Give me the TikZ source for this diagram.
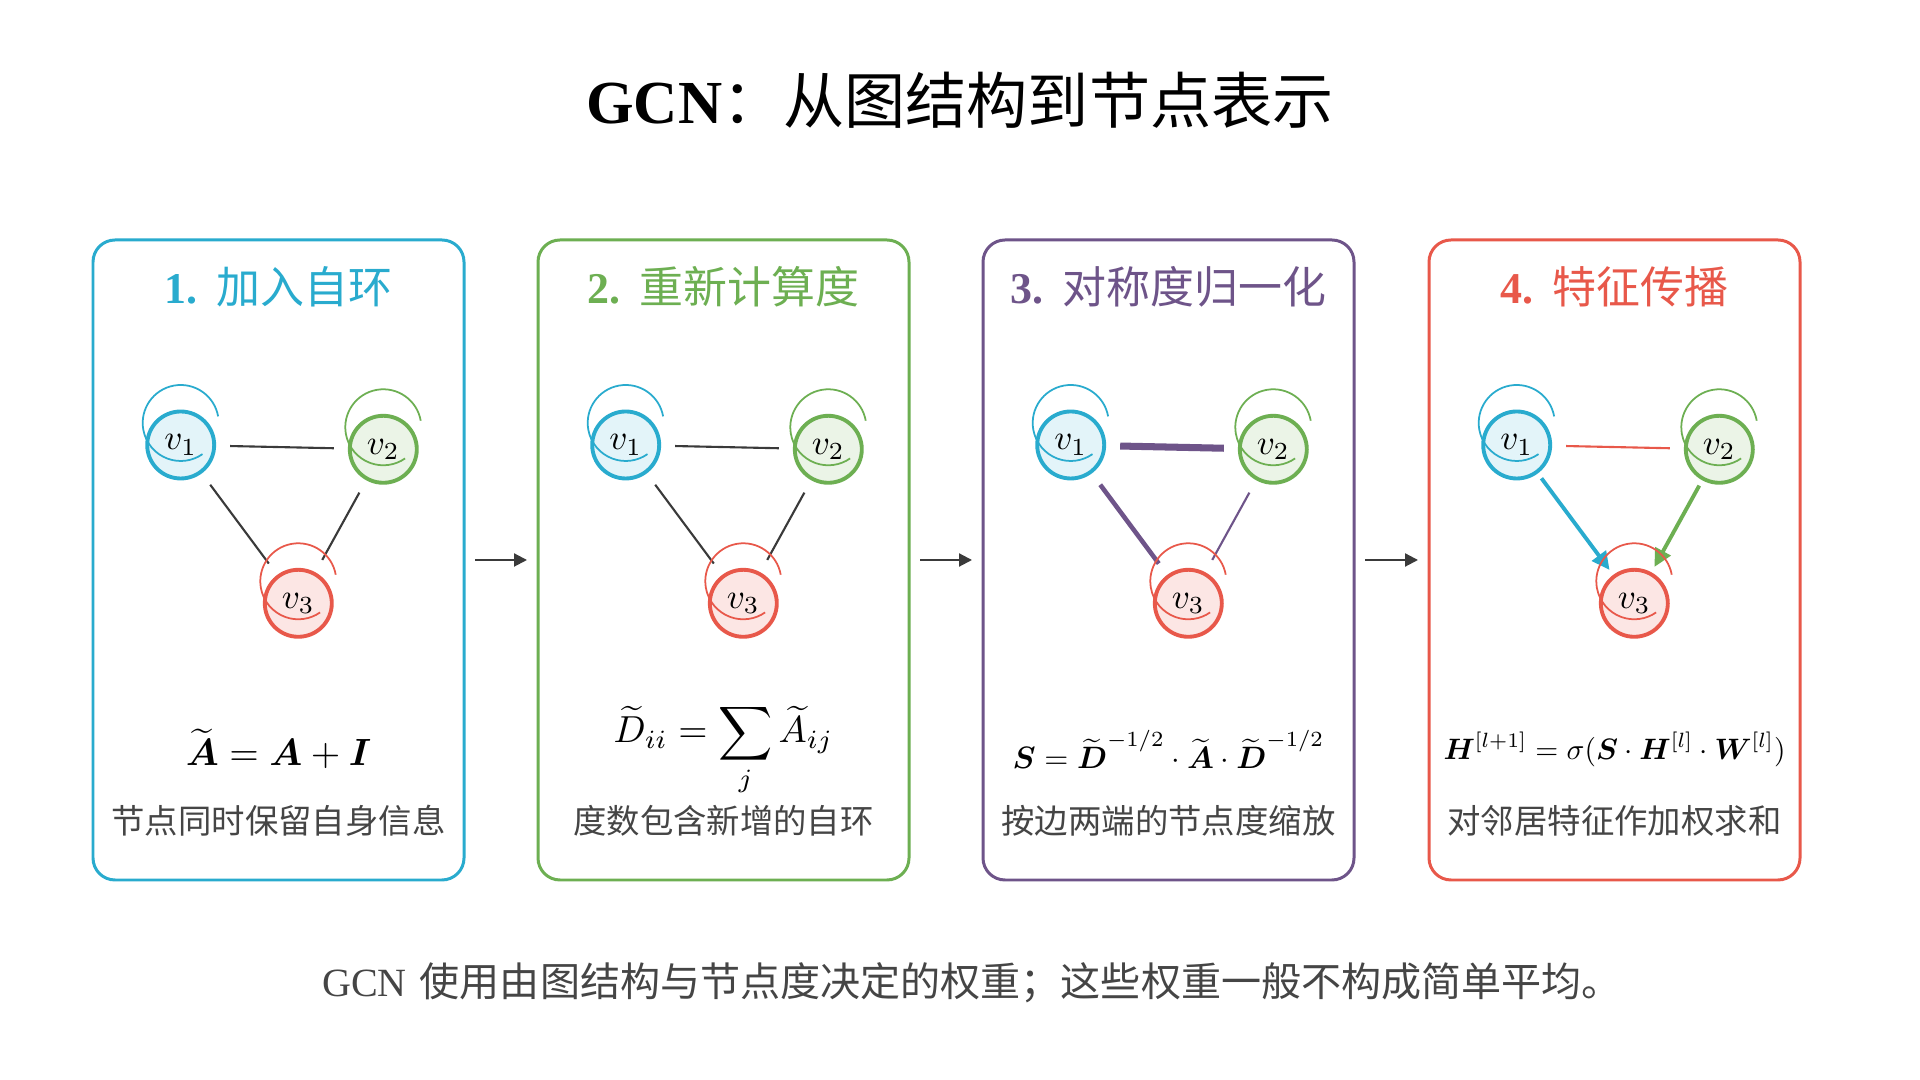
\documentclass[tikz,border=0pt]{standalone}
\usepackage{amsmath}
\usepackage{fontspec}
\newfontfamily\cjk{Noto Sans CJK SC}
\newfontfamily\tnr{Liberation Serif}
\usetikzlibrary{arrows.meta}

\definecolor{gcncyan}{HTML}{29ABCE}
\definecolor{gcngreen}{HTML}{6DAF52}
\definecolor{gcnpurple}{HTML}{6E5489}
\definecolor{gcnred}{HTML}{E8584A}
\definecolor{edgegray}{HTML}{3A3A3A}
\definecolor{textgray}{HTML}{454545}

\tikzset{
	panel/.style={draw, rounded corners=0.22cm, line width=0.85pt, minimum width=3.71cm, minimum height=6.4cm, inner sep=0pt, outer sep=0pt},
	paneltitle/.style={anchor=base, font=\fontsize{12.5}{15}\selectfont},
	vert/.style={circle, line width=1.1pt, minimum size=0.67cm, inner sep=0pt, outer sep=0pt, font=\fontsize{10}{12}\selectfont},
	vcyan/.style={vert, draw=gcncyan, fill=gcncyan!13},
	vgreen/.style={vert, draw=gcngreen, fill=gcngreen!14},
	vred/.style={vert, draw=gcnred, fill=gcnred!15},
	selfloop/.style={line width=0.5pt},
	edge/.style={line width=0.6pt, draw=edgegray, shorten <=0.16cm, shorten >=0.16cm},
	push/.style={line width=1.1pt, -{Triangle[length=0.18cm,width=0.17cm]}, shorten <=0.08cm, shorten >=0.08cm},
	flow/.style={line width=0.6pt, draw=edgegray, -{Triangle[length=0.13cm,width=0.13cm]}, shorten <=0.11cm, shorten >=0.11cm},
	formula/.style={anchor=base, font=\fontsize{10}{12}\selectfont},
	desc/.style={anchor=base, text=textgray, font=\fontsize{9.5}{11}\selectfont\cjk}
}

\begin{document}
\begin{tikzpicture}[x=1cm, y=1cm]
	\fill[white] (0,0) rectangle (19.2,10.8);
	\useasboundingbox (0,0) rectangle (19.2,10.8);
	\node[anchor=base, font=\fontsize{17.4}{21}\selectfont] (title) at (9.6,9.56) {{\tnr\bfseries GCN}{\cjk ：从图结构到节点表示}};

	\node[panel, draw=gcncyan] (pa) at (2.785,5.2) {};
	\node[panel, draw=gcngreen] (pb) at (7.235,5.2) {};
	\node[panel, draw=gcnpurple] (pc) at (11.685,5.2) {};
	\node[panel, draw=gcnred] (pd) at (16.145,5.2) {};
	\draw[flow] (pa) -- (pb);
	\draw[flow] (pb) -- (pc);
	\draw[flow] (pc) -- (pd);

	\node[paneltitle, text=gcncyan] (ta) at (2.785,7.76) {{\tnr\bfseries 1.} {\cjk 加入自环}};
	\node[paneltitle, text=gcngreen] (tb) at (7.235,7.76) {{\tnr\bfseries 2.} {\cjk 重新计算度}};
	\node[paneltitle, text=gcnpurple] (tc) at (11.685,7.76) {{\tnr\bfseries 3.} {\cjk 对称度归一化}};
	\node[paneltitle, text=gcnred] (td) at (16.145,7.76) {{\tnr\bfseries 4.} {\cjk 特征传播}};

	\node[vcyan] (a1) at (1.807,6.35) {$v_1$};
	\node[vgreen] (a2) at (3.833,6.307) {$v_2$};
	\node[vred] (a3) at (2.983,4.767) {$v_3$};
	\draw[edge] (a1) -- (a2);
	\draw[edge] (a1) -- (a3);
	\draw[edge] (a2) -- (a3);
	\draw[selfloop, gcncyan] ([yshift=0.22cm]a1.center) ++(10:0.38) arc(10:305:0.38);
	\draw[selfloop, gcngreen] ([yshift=0.22cm]a2.center) ++(10:0.38) arc(10:305:0.38);
	\draw[selfloop, gcnred] ([yshift=0.22cm]a3.center) ++(10:0.38) arc(10:305:0.38);

	\node[vcyan] (b1) at (6.257,6.35) {$v_1$};
	\node[vgreen] (b2) at (8.283,6.307) {$v_2$};
	\node[vred] (b3) at (7.433,4.767) {$v_3$};
	\draw[edge] (b1) -- (b2);
	\draw[edge] (b1) -- (b3);
	\draw[edge] (b2) -- (b3);
	\draw[selfloop, gcncyan] ([yshift=0.22cm]b1.center) ++(10:0.38) arc(10:305:0.38);
	\draw[selfloop, gcngreen] ([yshift=0.22cm]b2.center) ++(10:0.38) arc(10:305:0.38);
	\draw[selfloop, gcnred] ([yshift=0.22cm]b3.center) ++(10:0.38) arc(10:305:0.38);

	\node[vcyan] (c1) at (10.707,6.35) {$v_1$};
	\node[vgreen] (c2) at (12.733,6.307) {$v_2$};
	\node[vred] (c3) at (11.883,4.767) {$v_3$};
	\draw[edge, gcnpurple, line width=2pt] (c1) -- (c2);
	\draw[edge, gcnpurple, line width=1.3pt] (c1) -- (c3);
	\draw[edge, gcnpurple, line width=0.6pt] (c2) -- (c3);
	\draw[selfloop, gcncyan] ([yshift=0.22cm]c1.center) ++(10:0.38) arc(10:305:0.38);
	\draw[selfloop, gcngreen] ([yshift=0.22cm]c2.center) ++(10:0.38) arc(10:305:0.38);
	\draw[selfloop, gcnred] ([yshift=0.22cm]c3.center) ++(10:0.38) arc(10:305:0.38);

	\node[vcyan] (d1) at (15.167,6.35) {$v_1$};
	\node[vgreen] (d2) at (17.193,6.307) {$v_2$};
	\node[vred] (d3) at (16.343,4.767) {$v_3$};
	\draw[edge, gcnred] (d1) -- (d2);
	\draw[push, gcncyan] (d1) -- (d3);
	\draw[push, gcngreen] (d2) -- (d3);
	\draw[selfloop, gcncyan] ([yshift=0.22cm]d1.center) ++(10:0.38) arc(10:305:0.38);
	\draw[selfloop, gcngreen] ([yshift=0.22cm]d2.center) ++(10:0.38) arc(10:305:0.38);
	\draw[selfloop, gcnred] ([yshift=0.22cm]d3.center) ++(10:0.38) arc(10:305:0.38);

	\node[formula, scale=1.08] (fa) at (2.785,3.14) {$\widetilde{\boldsymbol{A}} = \boldsymbol{A} + \boldsymbol{I}$};
	\node[formula, scale=1.07] (fb) at (7.235,3.37) {$\displaystyle \widetilde{D}_{ii} = \sum_j \widetilde{A}_{ij}$};
	\node[formula, scale=0.88] (fc) at (11.685,3.11) {$\boldsymbol{S} = \widetilde{\boldsymbol{D}}^{-1/2} \cdot \widetilde{\boldsymbol{A}} \cdot \widetilde{\boldsymbol{D}}^{-1/2}$};
	\node[formula, scale=0.84] (fd) at (16.145,3.2) {$\boldsymbol{H}^{[l+1]} = \sigma(\boldsymbol{S} \cdot \boldsymbol{H}^{[l]} \cdot \boldsymbol{W}^{[l]})$};

	\node[desc] (da) at (2.785,2.46) {节点同时保留自身信息};
	\node[desc] (db) at (7.235,2.46) {度数包含新增的自环};
	\node[desc] (dc) at (11.685,2.46) {按边两端的节点度缩放};
	\node[desc] (dd) at (16.145,2.46) {对邻居特征作加权求和};

	\node[anchor=base, text=textgray, font=\fontsize{11.4}{13}\selectfont] (note) at (9.72,0.83) {{\tnr GCN} {\cjk 使用由图结构与节点度决定的权重；这些权重一般不构成简单平均。}};
\end{tikzpicture}
\end{document}
